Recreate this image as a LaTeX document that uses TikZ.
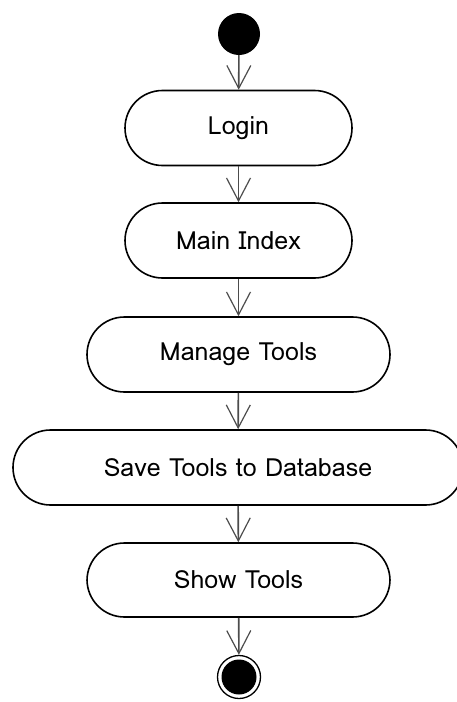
\documentclass[tikz,border=0pt]{standalone}
\usepackage{fontspec}
\setmainfont{Loma}
\usetikzlibrary{arrows.meta}
\begin{document}
\begin{tikzpicture}[x=1pt,y=-1pt,
  act/.style={draw=black, line width=1.6pt, rounded corners=37.5pt, inner sep=0pt,
    minimum height=75pt, font=\fontsize{25}{28}\selectfont},
  flow/.style={draw=black!70, line width=1.6pt, -{Straight Barb[length=23pt,width=24pt,line width=1.2pt]}},
]
\useasboundingbox (0,0) rectangle (457,702);
\fill (239,34) circle (21);
\node[circle, minimum size=42pt, inner sep=0pt] (start) at (239,34) {};
\node[act, minimum width=227pt] (login) at (238.5,128) {Login};
\node[act, minimum width=227pt] (main) at (238.5,240.5) {Main Index};
\node[act, minimum width=303pt] (manage) at (238.5,354.5) {Manage Tools};
\node[act, minimum width=450pt] (save) at (238,467.5) {Save Tools to Database};
\node[act, minimum width=303pt, minimum height=74pt] (show) at (238.5,580) {Show Tools};
\node[circle, draw=black, line width=1.3pt, minimum size=43pt, inner sep=0pt] (end) at (239,677) {};
\fill (239,677) circle (17.5);
\draw[flow] (start) -- (login);
\draw[flow] (login) -- (main);
\draw[flow] (main) -- (manage);
\draw[flow] (manage) -- (save);
\draw[flow] (save) -- (show);
\draw[flow] (show) -- (end);
\end{tikzpicture}
\end{document}
